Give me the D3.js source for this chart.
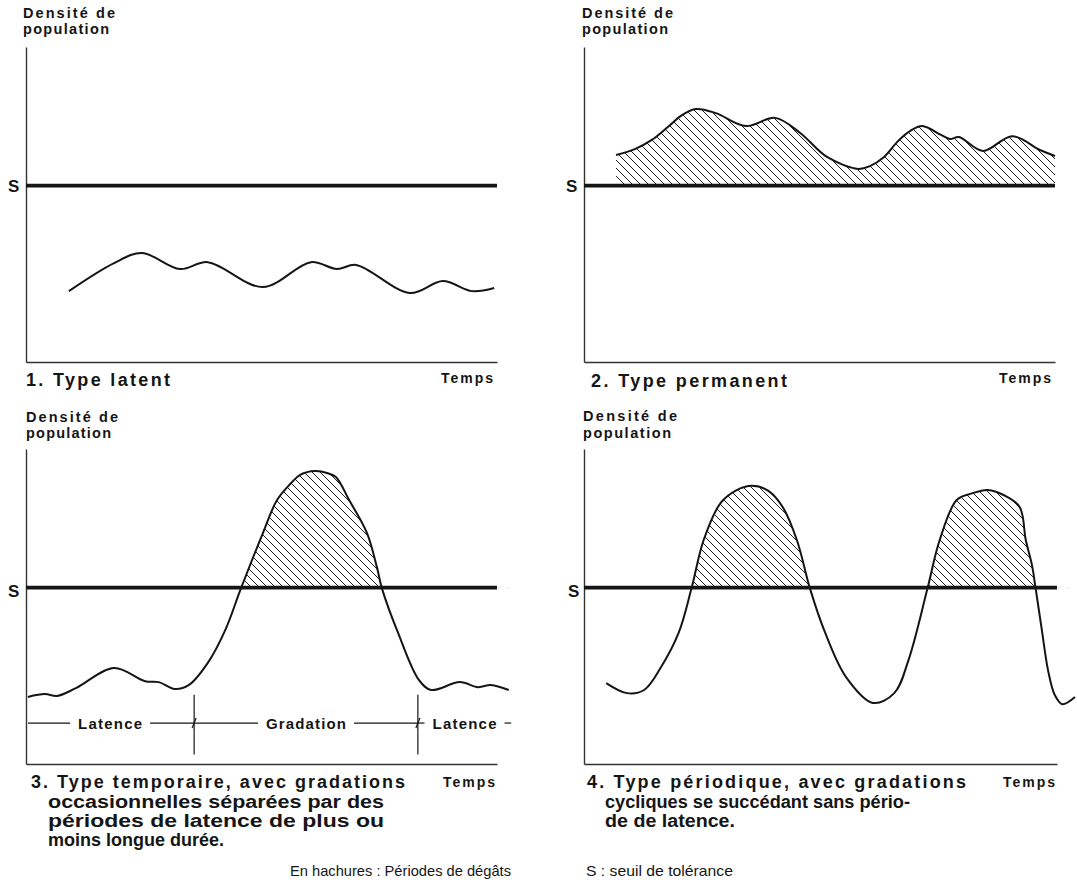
<!DOCTYPE html>
<html><head><meta charset="utf-8">
<script src="https://cdn.jsdelivr.net/npm/d3@7"></script>
<style>
body{margin:0;background:#fff}
svg{display:block}
text{font-family:"Liberation Sans",Arial,Helvetica,sans-serif;fill:#151515}
</style>
</head><body>
<svg id="c" width="1077" height="893"></svg>
<script>
// ---------- DATA (time 0-100 along the axis, density 0-100 up the axis) ----------
const threshold = 56;                       // S : seuil de tolérance

const time1 = [9.1, 18.7, 24.6, 32.7, 38.6, 50.3, 60.5, 66.0, 70.1, 81.5, 88.5, 94.7, 99.4];
const dens1 = [22.5, 31.4, 34.6, 29.5, 31.7, 23.8, 31.7, 29.5, 30.8, 21.9, 25.7, 22.5, 23.5];

const time2 = [6.8, 10.8, 14.4, 17.8, 20.8, 23.8, 28.0, 34.4, 40.6, 45.9, 51.6, 58.2, 60.7, 63.7, 66.7, 69.2, 71.8, 75.8, 77.7, 79.6, 84.7, 90.9, 96.8, 100];
const dens2 = [65.7, 67.6, 70.5, 74.6, 78.4, 80.3, 79.0, 74.9, 77.5, 72.7, 65.1, 61.3, 62.2, 65.1, 70.2, 73.3, 74.9, 72.1, 70.8, 71.4, 67.0, 71.7, 67.3, 65.4];

const time3 = [0.4, 4.0, 6.6, 10.6, 18.7, 25.3, 28.2, 31.6, 34.6, 38.6, 42.3, 45.6, 50.3, 53.3, 56.3, 58.2, 61.4, 64.1, 65.8, 68.6, 72.4, 74.5, 75.6, 79.0, 83.4, 86.0, 92.1, 96.0, 98.7, 102.5];
const dens3 = [21.3, 22.2, 21.6, 24.1, 30.5, 26.3, 26.0, 23.8, 25.1, 32.1, 42.5, 55.6, 73.3, 83.8, 89.2, 91.8, 93.0, 92.3, 91.1, 83.8, 73.3, 62.5, 55.6, 41.6, 26.7, 23.5, 26.0, 24.4, 25.1, 23.5];

const time4 = [4.7, 9.1, 12.7, 16.3, 20.0, 22.7, 25.3, 28.9, 32.1, 35.5, 38.9, 42.0, 45.0, 47.8, 51.0, 55.4, 61.1, 65.6, 68.6, 72.6, 75.2, 78.8, 82.0, 85.4, 88.7, 92.1, 93.4, 94.7, 95.5, 96.8, 98.1, 99.5, 101.1, 103.8];
const dens4 = [25.7, 22.5, 23.5, 30.8, 41.6, 55.6, 71.1, 82.9, 86.8, 88.3, 86.8, 81.6, 71.1, 55.6, 41.6, 27.6, 19.4, 22.5, 33.0, 55.6, 71.1, 83.8, 85.9, 87.0, 85.4, 81.6, 71.1, 63.2, 55.6, 42.5, 29.8, 22.0, 19.0, 21.3];

const seriesTime = [time1, time2, time3, time4];
const seriesDens = [dens1, dens2, dens3, dens4];

const axisTitle = ["Densité de", "population"];
const axisXLabel = "Temps";
const thresholdLabel = "S";
const captions = [
  ["1. Type latent"],
  ["2. Type permanent"],
  ["3. Type temporaire, avec gradations", "occasionnelles séparées par des", "périodes de latence de plus ou", "moins longue durée."],
  ["4. Type périodique, avec gradations", "cycliques se succédant sans pério-", "de de latence."]
];
const phaseLabels = ["Latence", "Gradation", "Latence"];
const phaseBounds = [0, 35.7, 83.2, 103];   // time values of panel 3 phase limits
const legendTexts = ["En hachures : Périodes de  dégâts", "S : seuil de tolérance"];

// ---------- LAYOUT / STYLE ----------
const layout = [
  {ox: 26,  oy: 362, w: 471, h: 315, tx: 23,  ty: [18, 34],   tw: [92, 86], cx: [26],  cy: [386], cw: [144], tempsR: 493, tempsY: 383, sx: 8,   sy: 192},
  {ox: 584, oy: 362, w: 471, h: 315, tx: 582, ty: [18, 34],   tw: [91, 86], cx: [591], cy: [387], cw: [196], tempsR: 1051, tempsY: 383, sx: 566, sy: 192},
  {ox: 26,  oy: 764, w: 471, h: 315, tx: 26,  ty: [422, 438], tw: [92, 85], cx: [31, 48, 48, 48], cy: [788, 808, 827, 846], cw: [374, 336, 336, 176], tempsR: 495, tempsY: 787, sx: 8, sy: 597},
  {ox: 584, oy: 764, w: 473, h: 315, tx: 583, ty: [421, 438], tw: [94, 88], cx: [587, 605, 605], cy: [788, 808, 827], cw: [379, 305, 130], tempsR: 1055, tempsY: 787, sx: 568, sy: 597}
];
const ink = "#151515";

const svg = d3.select("#c");
const defs = svg.append("defs");
const pat = defs.append("pattern").attr("id", "hatch")
  .attr("patternUnits", "userSpaceOnUse").attr("width", 8).attr("height", 8);
pat.append("path").attr("d", "M0,0L8,8M-1,7L1,9M7,-1L9,1")
  .attr("stroke", "#222").attr("stroke-width", 1).attr("fill", "none");

function txt(g, x, y, s, size, weight, len, adjust) {
  const t = g.append("text").attr("x", x).attr("y", y).text(s)
    .attr("font-size", size).attr("font-weight", weight);
  if (len) t.attr("textLength", len).attr("lengthAdjust", adjust || "spacing");
  return t;
}

const curve = d3.curveCatmullRom.alpha(0.5);

layout.forEach((L, i) => {
  const g = svg.append("g");
  const x = d3.scaleLinear().domain([0, 100]).range([L.ox, L.ox + L.w]);
  const y = d3.scaleLinear().domain([0, 100]).range([L.oy, L.oy - L.h]);
  const pts = d3.zip(seriesTime[i], seriesDens[i]);

  // hatch (only where density exceeds threshold)
  const cid = "clip" + i;
  defs.append("clipPath").attr("id", cid).append("rect")
    .attr("x", L.ox).attr("y", L.oy - L.h - 10)
    .attr("width", L.w + 40).attr("height", y(threshold) - (L.oy - L.h - 10));
  const area = d3.area().x(d => x(d[0])).y0(y(threshold)).y1(d => y(d[1])).curve(curve);
  g.append("path").attr("d", area(pts)).attr("fill", "url(#hatch)").attr("clip-path", `url(#${cid})`);

  // axes (no ticks)
  g.append("g").attr("transform", `translate(0,${L.oy})`)
    .call(d3.axisBottom(x).tickValues([]).tickSizeOuter(0));
  g.append("g").attr("transform", `translate(${L.ox},0)`)
    .call(d3.axisLeft(y).tickValues([]).tickSizeOuter(0));
  g.selectAll(".domain").attr("stroke", "#333").attr("stroke-width", 1.4);

  // threshold S
  g.append("line").attr("x1", x(0)).attr("x2", x(100))
    .attr("y1", y(threshold)).attr("y2", y(threshold))
    .attr("stroke", ink).attr("stroke-width", 3.6);
  txt(g, L.sx, L.sy, thresholdLabel, 17, "bold");

  // population curve
  const line = d3.line().x(d => x(d[0])).y(d => y(d[1])).curve(curve);
  g.append("path").attr("d", line(pts)).attr("fill", "none")
    .attr("stroke", ink).attr("stroke-width", 2).attr("stroke-linejoin", "round");

  // axis titles
  axisTitle.forEach((s, k) => txt(g, L.tx, L.ty[k], s, 14.5, "bold", L.tw[k]));
  txt(g, L.tempsR - 52, L.tempsY, axisXLabel, 14, "bold", 52);

  // captions
  captions[i].forEach((s, k) => txt(g, L.cx[k], L.cy[k], s, 18, "bold", L.cw[k],
    (i >= 2 && k > 0) ? "spacingAndGlyphs" : "spacing"));

  // phases (panel 3)
  if (i === 2) {
    const yb = y(13), labW = [64, 80, 64], pad = 8;
    for (let k = 0; k < phaseLabels.length; k++) {
      const a = x(phaseBounds[k]), b = x(phaseBounds[k + 1]), m = (a + b) / 2;
      g.append("line").attr("x1", a + (k ? 0 : 2)).attr("x2", m - labW[k] / 2 - pad).attr("y1", yb).attr("y2", yb)
        .attr("stroke", ink).attr("stroke-width", 1.2);
      g.append("line").attr("x1", m + labW[k] / 2 + pad).attr("x2", b).attr("y1", yb).attr("y2", yb)
        .attr("stroke", ink).attr("stroke-width", 1.2);
      txt(g, m - labW[k] / 2, yb + 5.5, phaseLabels[k], 15, "bold", labW[k]);
    }
    [phaseBounds[1], phaseBounds[2]].forEach(t => {
      g.append("line").attr("x1", x(t)).attr("x2", x(t)).attr("y1", y(22)).attr("y2", y(3))
        .attr("stroke", ink).attr("stroke-width", 1.2);
      g.append("line").attr("x1", x(t) - 2).attr("x2", x(t) + 2).attr("y1", yb + 5).attr("y2", yb - 5)
        .attr("stroke", ink).attr("stroke-width", 1.2);
    });
  }
});

// legend
const lg = svg.append("g");
txt(lg, 290, 876, legendTexts[0], 15, "normal", 221, "spacingAndGlyphs");
txt(lg, 586, 876, legendTexts[1], 15, "normal", 147, "spacingAndGlyphs");
</script>
</body></html>
